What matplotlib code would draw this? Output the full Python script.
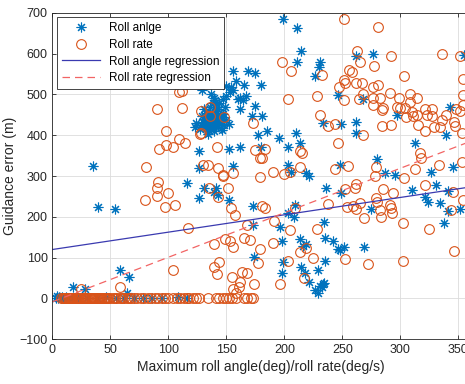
import numpy as np
import matplotlib.pyplot as plt

# Roll angle samples (deg) vs guidance error (m)
angle_x = [35, 39, 54, 58, 66, 18, 28, 64,
           3, 4, 5, 6, 7, 8, 9, 10, 12, 14, 17, 22, 30, 38, 46, 55, 62, 70, 78, 86, 94, 108, 116,
           126, 139, 143, 152, 116, 131, 141, 173, 173, 174,
           126, 126, 152, 156, 162, 177, 180, 185, 195, 203, 210, 213, 203, 206, 219, 221, 236, 249,
           233, 249, 262, 262, 280, 248, 287, 295, 326, 345, 310, 331, 341, 321, 297, 343, 339, 313,
           246, 268, 199, 211, 214, 211, 231, 230, 226, 262, 276, 355,
           156, 169, 175, 158, 165, 180, 150, 129, 153, 147, 162, 175, 162, 181, 172, 150, 140, 124,
           123, 154, 160, 164, 167, 156,
           128, 130, 131, 132, 133, 133, 134, 134, 135, 135, 136, 136, 137, 137, 138, 138, 139, 139,
           140, 140, 141, 141, 142, 142, 143, 144, 145, 145, 146, 147, 148, 149, 132, 136, 138, 140,
           133, 129, 143, 146, 150, 152, 127, 131, 134, 139, 144, 137, 141, 147, 135, 137,
           209, 203, 208, 196, 234, 235, 198, 213, 219, 242, 246, 251, 248, 269, 199, 198, 214, 218,
           229, 235, 221, 226, 229, 233, 231, 234, 232, 324, 334, 341, 351, 338, 275, 216]
angle_y = [325, 223, 220, 70, 52, 28, 22, 13,
           2, 5, 0, 3, 1, 4, 2, 0, 3, 1, 2, 0, 2, 1, 3, 1, 2, 0, 2, 1, 2, 3, 2,
           245, 262, 254, 241, 284, 270, 270, 227, 180, 102,
           362, 319, 366, 325, 372, 401, 372, 411, 393, 372, 405, 382, 327, 311, 307, 299, 270, 259,
           429, 428, 433, 405, 342, 327, 307, 303, 311, 322, 266, 278, 264, 248, 450, 469, 401, 380,
           499, 488, 684, 662, 605, 580, 580, 568, 545, 593, 599, 597,
           556, 558, 552, 533, 523, 523, 521, 511, 505, 488, 492, 472, 464, 446, 446, 496, 486, 429,
           421, 519, 488, 487, 495, 511,
           425, 432, 440, 418, 428, 446, 435, 452, 420, 440, 430, 458, 415, 445, 425, 436, 450, 410,
           430, 442, 420, 460, 435, 448, 426, 440, 418, 455, 432, 445, 425, 470, 455, 468, 478, 470,
           410, 448, 465, 412, 438, 428, 415, 465, 404, 492, 480, 500, 476, 452, 430, 440,
           229, 209, 200, 175, 188, 149, 142, 145, 134, 142, 121, 125, 119, 127, 90, 62, 77, 63,
           70, 93, 41, 21, 13, 35, 30, 38, 27, 237, 233, 215, 218, 184, 219, 129]

# Roll rate samples (deg/s) vs guidance error (m)
rate_x = [7, 9, 10, 11, 12, 13, 14, 15, 16, 17, 18, 19, 20, 21, 22, 23, 24, 25, 26, 27, 28, 29,
          30, 31, 32, 33, 34, 35, 36, 37, 38, 39, 40, 41, 42, 43, 44, 45, 46, 47, 48, 50, 52, 54,
          56, 58, 60, 62, 64, 66, 68, 70, 73, 76, 79, 82, 85, 88, 91, 94, 97, 100, 104, 107, 110,
          113, 116, 118, 121, 124, 126, 134, 141, 144, 147, 150, 152, 155, 158, 165, 168, 171, 173,
          117, 80, 90, 100, 97, 106, 104, 58, 25, 139, 142, 144, 139, 149, 153, 156, 154, 157, 143,
          155, 156, 158, 161, 162, 163, 168, 174, 168, 165, 170, 179, 177, 181, 183, 191, 190, 205,
          203, 213, 219, 225, 228, 238, 252, 217, 196, 209, 254, 259, 262, 265, 262, 261, 269, 279,
          280, 282, 283, 285, 291, 292, 293, 294, 302, 303, 321, 325, 345, 344, 354, 346, 302, 272,
          252,
          90, 109, 112, 112, 98, 98, 104, 109, 114, 92, 81, 90, 91, 127, 128, 128, 136, 136, 148,
          142, 130, 134, 143, 147, 156, 151, 135, 173, 175, 179, 179, 147,
          251, 281, 263, 265, 277, 292, 336, 351, 354, 303, 198, 206, 232, 256, 258, 251, 252, 247,
          262, 267, 276, 281, 291, 299, 308, 314, 308, 203, 228, 251, 264, 268, 276, 276, 282, 284,
          285, 297, 300, 304, 305, 310, 311, 314, 321, 323, 327, 327, 315, 321, 329, 334, 336, 339,
          346, 347, 348, 351, 354, 354, 353, 353, 284, 292, 268, 246, 238, 244, 231, 181, 183, 213,
          215, 213, 190, 200, 205, 244, 255, 279, 278, 313, 317, 318, 333]
rate_y = [1, 2, 0, 1, 2, 1, 0, 2, 1, 1, 2, 0, 1, 2, 1, 1, 0, 2, 1, 1, 2, 1,
          0, 1, 2, 1, 1, 0, 2, 1, 1, 2, 1, 0, 1, 2, 1, 1, 0, 2, 1, 1, 2, 1,
          0, 1, 2, 1, 1, 0, 2, 1, 1, 2, 1, 0, 1, 2, 1, 1, 2, 1, 0, 1, 2,
          1, 1, 2, 0, 1, 1, 2, 1, 0, 1, 2, 1, 1, 0, 2, 1, 1, 1,
          173, 241, 251, 259, 225, 229, 70, 28, 23, 78, 60, 90, 133, 145, 142, 126, 222, 205, 248,
          52, 24, 14, 29, 41, 66, 63, 36, 180, 149, 143, 121, 88, 227, 221, 189, 136, 168,
          92, 114, 124, 99, 171, 232, 97, 50, 35, 222, 223, 226, 219, 233, 280, 270, 197, 246,
          236, 216, 200, 268, 230, 221, 210, 258, 186, 296, 278, 171, 262, 217, 241, 117, 93, 85,
          268,
          464, 507, 509, 466, 410, 375, 370, 391, 382, 366, 323, 270, 286, 403, 406, 460, 470, 447,
          444, 372, 326, 326, 319, 299, 308, 270, 270, 429, 364, 345, 298, 303,
          684, 664, 605, 580, 570, 593, 599, 593, 537, 545, 580, 556, 548, 560, 554, 536, 528, 519,
          527, 527, 518, 522, 504, 491, 502, 491, 482, 488, 496, 485, 488, 502, 491, 474, 490, 461,
          467, 469, 466, 467, 445, 458, 447, 450, 463, 450, 463, 446, 425, 410, 419, 419, 436, 449,
          432, 423, 464, 460, 474, 499, 405, 335, 423, 424, 401, 382, 422, 428, 450, 344, 366, 362,
          356, 321, 310, 304, 311, 317, 324, 323, 300, 318, 356, 345, 326]

# regression lines: y = slope * x + intercept
angle_slope, angle_intercept = 0.425, 120
rate_slope, rate_intercept = 1.09, -8

x_ticks = [0, 50, 100, 150, 200, 250, 300, 350]
y_ticks = [-100, 0, 100, 200, 300, 400, 500, 600, 700]

plt.rcParams['font.family'] = ['Liberation Sans', 'DejaVu Sans']

fig = plt.figure(figsize=(4.65, 3.84), dpi=100)
ax = fig.add_axes([0.1129, 0.1164, 0.8978, 0.8505])

ax.plot(angle_x, angle_y, linestyle='none', marker=(8, 2, 0), markersize=7,
        markeredgecolor='#0072BD', markeredgewidth=0.8, label='Roll anlge')
ax.plot(rate_x, rate_y, linestyle='none', marker='o', markersize=7, markerfacecolor='none',
        markeredgecolor='#D95319', markeredgewidth=0.8, label='Roll rate')

xs = np.array([0, 360])
ax.plot(xs, angle_slope * xs + angle_intercept, color='#3A3AB0', lw=0.9,
        label='Roll angle regression')
ax.plot(xs, rate_slope * xs + rate_intercept, color='#F26464', lw=0.9, ls=(0, (6, 4)),
        label='Roll rate regression')

ax.set_xlim(0, 360)
ax.set_ylim(-100, 700)
ax.set_xticks(x_ticks)
ax.set_yticks(y_ticks)
ax.tick_params(direction='in', top=True, right=True, length=3, labelsize=9,
               colors='#262626', width=0.6)
ax.grid(True, color='#DCDCDC', lw=0.6)
ax.set_axisbelow(True)
for s in ax.spines.values():
    s.set_color('#262626')
    s.set_linewidth(0.6)

ax.set_xlabel('Maximum roll angle(deg)/roll rate(deg/s)', fontsize=10, color='#262626', labelpad=3)
ax.set_ylabel('Guidance error (m)', fontsize=10, color='#262626', labelpad=2)

leg = ax.legend(loc='upper left', fontsize=8.5, fancybox=False, framealpha=1,
                edgecolor='#262626', borderaxespad=0.4, handlelength=3.2,
                labelspacing=0.4, borderpad=0.4)
leg.get_frame().set_linewidth(0.6)

fig.savefig('out.png', dpi=100)
